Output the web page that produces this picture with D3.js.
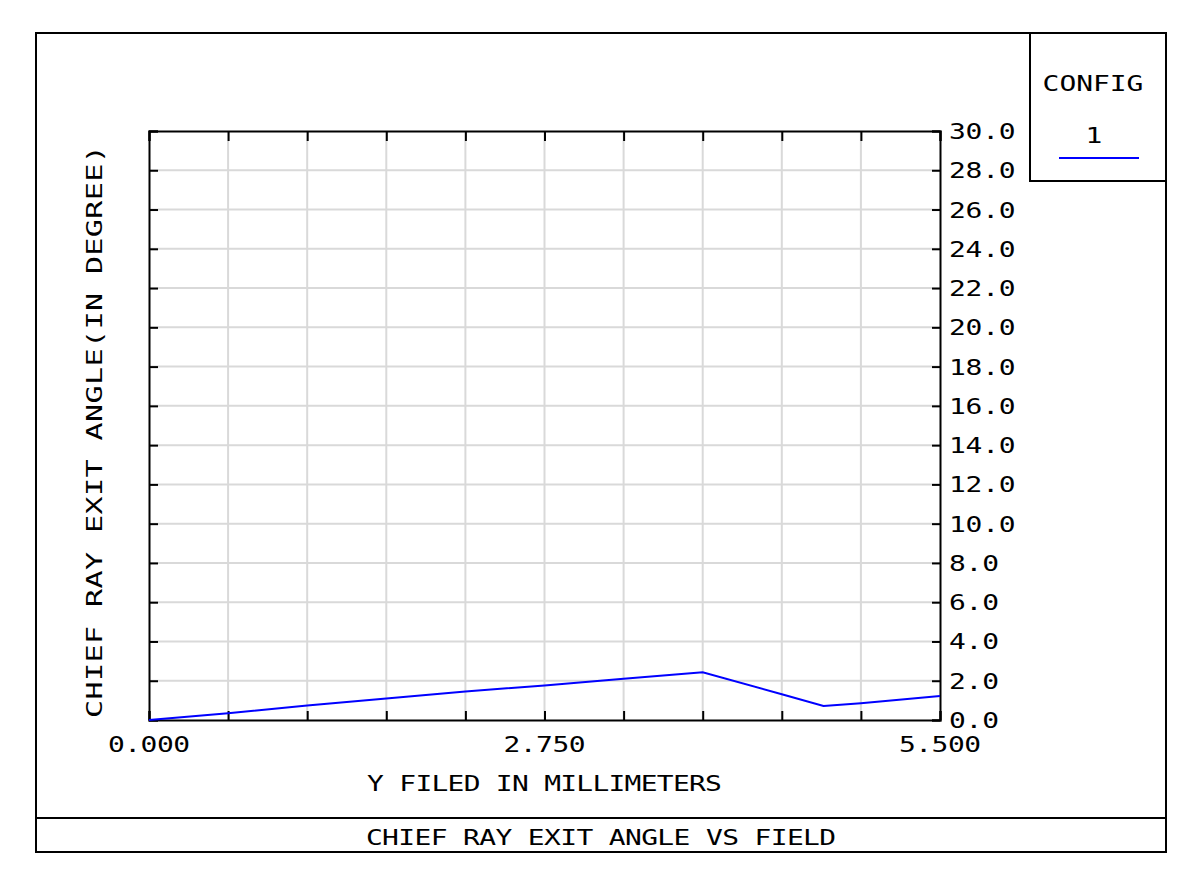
<!DOCTYPE html>
<html><head><meta charset="utf-8">
<script src="https://cdn.jsdelivr.net/npm/d3@7"></script>
<style>html,body{margin:0;padding:0;background:#fff}svg{display:block}</style>
</head><body>
<svg id="chart" width="1200" height="890"></svg>
<script>
// ---- data ----
const fieldMM = [0, 0.55, 1.1, 1.65, 2.2, 2.75, 3.3, 3.85, 4.4, 4.69, 4.95, 5.5];
const exitAngleDeg = [0, 0.34, 0.74, 1.1, 1.45, 1.76, 2.1, 2.43, 1.31, 0.71, 0.85, 1.22];
const xTickLabels = ["0.000", "2.750", "5.500"];
const xTickValues = [0, 2.75, 5.5];
const yTickValues = [0,2,4,6,8,10,12,14,16,18,20,22,24,26,28,30];
const configs = ["1"];
const title = "CHIEF RAY EXIT ANGLE VS FIELD";
const xLabel = "Y FILED IN MILLIMETERS";
const yLabel = "CHIEF RAY EXIT ANGLE(IN DEGREE)";

const svg = d3.select("#chart");
const FONT = "'DejaVu Sans Mono', 'Liberation Mono', monospace";
const L = 149, R = 940, T = 131, B = 720;
const x = d3.scaleLinear().domain([0, 5.5]).range([L, R]);
const y = d3.scaleLinear().domain([0, 30]).range([B, T]);

// text drawn horizontally stretched to mimic the plotter font
function txt(parent, s, px, py, opts) {
  const fs = opts.fs || 21.5, sx = opts.sx || 1.3, adv = opts.adv || 16.3;
  const anchor = opts.anchor || "start", rot = opts.rot || 0;
  const ls = adv / sx - 0.602 * fs;
  const g = parent.append("g")
    .attr("transform", `translate(${px},${py}) rotate(${rot}) scale(${sx},1)`);
  const t = g.append("text").text(s)
    .attr("font-family", FONT).attr("font-size", fs)
    .attr("letter-spacing", ls).attr("fill", "#000")
    .attr("text-anchor", anchor);
  if (anchor === "middle") t.attr("dx", ls / 2);
  return t;
}

// outer frame
svg.append("rect").attr("x", 36).attr("y", 33).attr("width", 1130).attr("height", 819)
  .attr("fill", "none").attr("stroke", "#000").attr("stroke-width", 2);
svg.append("line").attr("x1", 36).attr("x2", 1166).attr("y1", 818).attr("y2", 818)
  .attr("stroke", "#000").attr("stroke-width", 2);

// grid
const xGrid = d3.range(0, 11).map(i => i * 0.55);
svg.append("g").selectAll("line").data(xGrid.slice(1, -1)).join("line")
  .attr("x1", d => x(d)).attr("x2", d => x(d)).attr("y1", T).attr("y2", B)
  .attr("stroke", "#d9d9d9").attr("stroke-width", 2);
svg.append("g").selectAll("line").data(yTickValues.slice(1, -1)).join("line")
  .attr("x1", L).attr("x2", R).attr("y1", d => y(d)).attr("y2", d => y(d))
  .attr("stroke", "#d9d9d9").attr("stroke-width", 2);

// axes (box with inward ticks)
const axB = d3.axisBottom(x).tickValues(xGrid).tickSize(-9).tickFormat("");
const axT = d3.axisTop(x).tickValues(xGrid).tickSize(-10).tickFormat("");
const axL = d3.axisLeft(y).tickValues(yTickValues).tickSize(-9).tickFormat("");
const axR = d3.axisRight(y).tickValues(yTickValues).tickSize(-8).tickFormat("");
function styleAxis(g) {
  g.selectAll(".domain").attr("stroke", "#000").attr("stroke-width", 2);
  g.selectAll(".tick line").attr("stroke", "#000").attr("stroke-width", 2);
}
svg.append("g").attr("transform", `translate(0,${B})`).call(axB).call(styleAxis);
svg.append("g").attr("transform", `translate(0,${T})`).call(axT).call(styleAxis);
svg.append("g").attr("transform", `translate(${L},0)`).call(axL).call(styleAxis);
svg.append("g").attr("transform", `translate(${R},0)`).call(axR).call(styleAxis);

// data line
svg.append("path").datum(fieldMM.map((v, i) => [v, exitAngleDeg[i]]))
  .attr("fill", "none").attr("stroke", "#0000ff").attr("stroke-width", 2)
  .attr("d", d3.line().x(d => x(d[0])).y(d => y(d[1])));

// right y tick labels
const gyl = svg.append("g");
yTickValues.forEach(v => {
  txt(gyl, v.toFixed(1), 949, y(v) + 8, {adv: 16.6});
});
// bottom x tick labels
const gxl = svg.append("g");
xTickValues.forEach((v, i) => {
  txt(gxl, xTickLabels[i], x(v), 752, {adv: 16.3, anchor: "middle"});
});

// axis titles
txt(svg, xLabel, (L + R) / 2, 791, {adv: 16.1, anchor: "middle"});
txt(svg, title, 601, 845, {adv: 16.2, anchor: "middle"});
txt(svg, yLabel, 102, (T + B) / 2 + 6, {adv: 18.5, anchor: "middle", rot: -90, sx: 1.4});

// legend
svg.append("rect").attr("x", 1030).attr("y", 33).attr("width", 136).attr("height", 148)
  .attr("fill", "#fff").attr("stroke", "#000").attr("stroke-width", 2);
txt(svg, "CONFIG", 1093, 91, {adv: 16.8, anchor: "middle"});
configs.forEach((c, i) => {
  txt(svg, c, 1094, 143, {adv: 16.8, anchor: "middle"});
  svg.append("line").attr("x1", 1059).attr("x2", 1139).attr("y1", 158).attr("y2", 158)
    .attr("stroke", "#0000ff").attr("stroke-width", 2);
});
</script>
</body></html>
